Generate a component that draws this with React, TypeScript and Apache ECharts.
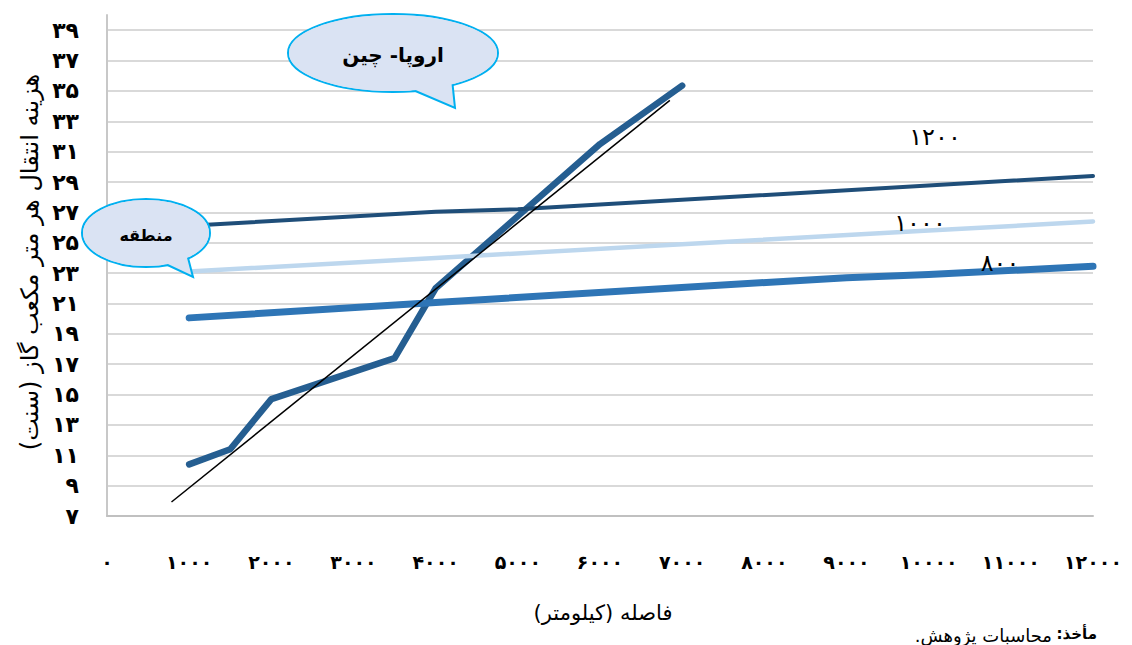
import React, { useEffect, useRef } from "react";
import * as echarts from "echarts";

const FA_DIGITS = "۰۱۲۳۴۵۶۷۸۹";
const toFa = (v: number | string) => String(v).replace(/\d/g, (d) => FA_DIGITS[+d]);

const FONT = "'DejaVu Sans', 'Noto Sans', sans-serif";

// texts
const yAxisTitle = "هزینه انتقال هر متر مکعب گاز (سنت)";
const xAxisTitle = "فاصله (کیلومتر)";
const sourceLabel = "مأخذ:\u200F";
const sourceText = "محاسبات پژوهش.\u200F";
const europeChinaName = "اروپا- چین";
const regionName = "منطقه";
const regionSeriesNames = ["۸۰۰", "۱۰۰۰", "۱۲۰۰"];

// axis
const xMin = 0;
const xMax = 12000;
const xStep = 1000;
const yMin = 7;
const yMax = 40;
const yStep = 2;

// Europe – China route (distance km, cost cents)
const europeChinaDistance = [1000, 1500, 2000, 3500, 4000, 6000, 7000];
const europeChinaCost = [10.4, 11.4, 14.7, 17.4, 22.0, 31.5, 35.35];

// linear trend of Europe – China
const trendDistance = [785, 6850];
const trendCost = [7.92, 34.38];

// regional pipelines
const region800Distance = [1000, 4000, 9000, 10000, 12000];
const region800Cost = [20.05, 21.07, 22.7, 22.9, 23.45];
const region1000Distance = [1000, 4000, 7000, 10000, 12000];
const region1000Cost = [23.1, 24.0, 24.9, 25.8, 26.4];
const region1200Distance = [1000, 4000, 5000, 12000];
const region1200Cost = [26.12, 27.04, 27.2, 29.4];

const pairs = (xs: number[], ys: number[]) => xs.map((x, i) => [x, ys[i]]);

const CALLOUT_FILL = "#DAE3F3";
const CALLOUT_STROKE = "#00B0F0";

function callout(cx: number, cy: number, rx: number, ry: number, tail: number[][], text: string, fontSize: number) {
  return {
    type: "group",
    children: [
      { type: "ellipse", shape: { cx, cy, rx, ry }, style: { fill: CALLOUT_FILL, stroke: CALLOUT_STROKE, lineWidth: 2 }, z: 100 },
      { type: "polygon", shape: { points: tail }, style: { fill: CALLOUT_FILL, stroke: CALLOUT_STROKE, lineWidth: 2 }, z: 101 },
      { type: "ellipse", shape: { cx, cy, rx: rx - 1, ry: ry - 1 }, style: { fill: CALLOUT_FILL }, z: 102 },
      {
        type: "text",
        x: cx,
        y: cy + 2,
        z: 103,
        style: { text, fill: "#000", font: `bold ${fontSize}px ${FONT}`, align: "center", verticalAlign: "middle" },
      },
    ],
  };
}

function label(x: number, y: number, text: string, font: string, align = "center", rotation = 0) {
  return {
    type: "text",
    x,
    y,
    z: 200,
    rotation,
    style: { text, fill: "#000", font, align, verticalAlign: "middle" },
  };
}

export default function App() {
  const ref = useRef<HTMLDivElement>(null);

  useEffect(() => {
    if (!ref.current) return;
    const chart = echarts.init(ref.current, null, { renderer: "svg" });
    const lineSeries = (name: string, data: number[][], color: string, width: number, z: number) => ({
      name,
      type: "line",
      data,
      showSymbol: false,
      symbol: "none",
      smooth: false,
      z,
      lineStyle: { color, width, cap: "round", join: "round" },
      emphasis: { disabled: true },
    });

    chart.setOption({
      animation: false,
      backgroundColor: "#fff",
      textStyle: { fontFamily: FONT },
      grid: { left: 107, right: 39, top: 15, bottom: 129, containLabel: false, outerBoundsMode: "none" },
      xAxis: {
        type: "value",
        min: xMin,
        max: xMax,
        interval: xStep,
        axisLine: { show: true, lineStyle: { color: "#C0C0C0", width: 2 } },
        axisTick: { show: false },
        splitLine: { show: false },
        axisLabel: {
          formatter: (v: number) => toFa(v),
          margin: 36,
          fontSize: 19,
          fontWeight: "bold",
          color: "#000",
          fontFamily: FONT,
        },
      },
      yAxis: {
        type: "value",
        min: yMin,
        max: yMax,
        interval: yStep,
        axisLine: { show: true, lineStyle: { color: "#C8C8C8", width: 2 } },
        axisTick: { show: false },
        splitLine: { show: true, showMaxLine: false, lineStyle: { color: "#D9D9D9", width: 2 } },
        axisLabel: {
          showMaxLabel: false,
          formatter: (v: number) => toFa(v),
          margin: 28,
          fontSize: 22,
          fontWeight: "bold",
          color: "#000",
          fontFamily: FONT,
        },
      },
      series: [
        lineSeries(europeChinaName, pairs(europeChinaDistance, europeChinaCost), "#255E91", 6.5, 2),
        lineSeries(regionSeriesNames[2], pairs(region1200Distance, region1200Cost), "#1F4E79", 4, 3),
        lineSeries(regionSeriesNames[1], pairs(region1000Distance, region1000Cost), "#BDD7EE", 4.5, 4),
        lineSeries(regionSeriesNames[0], pairs(region800Distance, region800Cost), "#2E75B6", 7, 5),
        {
          ...lineSeries("trend", pairs(trendDistance, trendCost), "#000000", 1.5, 6),
          lineStyle: { color: "#000", width: 1.5, cap: "butt" },
        },
      ],
      graphic: [
        label(30, 262, yAxisTitle, `24px ${FONT}`, "center", Math.PI / 2),
        label(603, 613, xAxisTitle, `21px ${FONT}`),
        label(1097, 634, sourceLabel, `bold 15px ${FONT}`, "right"),
        label(1052, 635, sourceText, `18px ${FONT}`, "right"),
        label(935, 137, regionSeriesNames[2], `24px ${FONT}`),
        label(920, 223, regionSeriesNames[1], `24px ${FONT}`),
        label(1000, 263, regionSeriesNames[0], `24px ${FONT}`),
        callout(393, 53, 105, 39, [[406, 87], [455, 108], [452, 79]], europeChinaName, 20),
        callout(146, 233, 64, 34, [[159, 261], [193, 277], [186.5, 252]], regionName, 16),
      ],
    });
    return () => chart.dispose();
  }, []);

  return (
    <div
      ref={ref}
      style={{ position: "fixed", left: 0, top: 0, width: 1132, height: 645, background: "#fff" }}
    />
  );
}
